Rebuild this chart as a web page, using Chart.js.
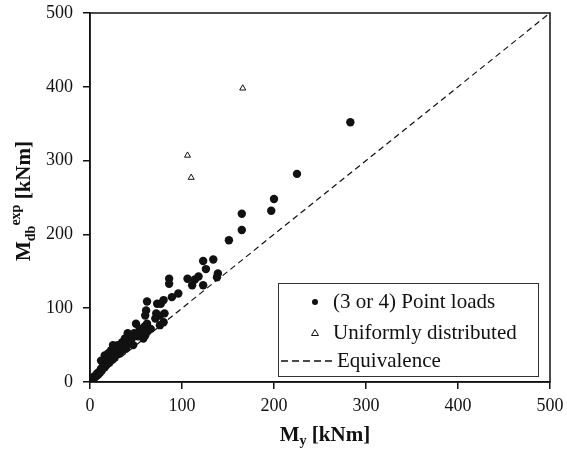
<!DOCTYPE html>
<html>
<head>
<meta charset="utf-8">
<script src="https://cdn.jsdelivr.net/npm/chart.js@4/dist/chart.umd.min.js"></script>
<style>
    html, body { margin: 0; padding: 0; background: #fff; }
    #wrap { width: 567px; height: 450px; }
</style>
</head>
<body>
<div id="wrap"><canvas id="chart" width="567" height="450"></canvas></div>
<script>
// M_y [kNm] vs M_db^exp [kNm]
const pointLoadsX = [283, 225, 200, 197, 165, 165, 151, 123, 134, 126, 139, 138, 106, 118, 114, 111, 123,
    86, 86, 96, 89, 80, 77, 62, 73, 61, 72, 81, 76, 71, 76, 80, 60, 62, 50, 54, 59, 58, 60, 48, 41,
    47, 44, 36, 35, 30, 25, 29, 23, 20, 16, 15, 12, 42, 38,
    1, 2, 3, 4, 5, 6, 7, 8, 9, 10, 11, 12, 13, 14, 16, 17, 18, 19, 21, 22, 24, 26, 27, 28, 31, 33, 34, 37, 39, 44, 46, 52, 55, 57, 63, 66];
const pointLoadsY = [352, 282, 248, 232, 228, 206, 192, 164, 166, 153, 147, 142, 140, 143, 139, 131, 131,
    140, 133, 120, 115, 111, 106, 109, 106, 97, 93, 93, 90, 86, 77, 81, 90, 79, 79, 72, 75, 59, 63, 66, 66,
    50, 52, 52, 54, 50, 50, 43, 43, 39, 36, 27, 29, 63, 59,
    2, 4, 3, 7, 6, 9, 8, 12, 10, 14, 13, 18, 16, 21, 20, 25, 23, 28, 26, 33, 30, 37, 34, 41, 38, 45, 42, 48, 45, 57, 60, 62, 65, 68, 69, 72];
const uniformX = [166, 106, 110];
const uniformY = [398, 307, 277];
const equivX = [0, 500];
const equivY = [0, 500];
const axisTicks = [0, 100, 200, 300, 400, 500];
const legendLabels = ["(3 or 4) Point loads", "Uniformly distributed", "Equivalence"];

const toPoints = (xs, ys) => xs.map((x, i) => ({ x: x, y: ys[i] }));
const SERIF = "'Liberation Serif', 'Times New Roman', serif";

// draw text runs with sub/superscripts, starting at x (baseline y)
function drawRuns(ctx, runs, x, y) {
    runs.forEach(r => {
        ctx.font = "bold " + r.size + "px " + SERIF;
        ctx.fillText(r.text, x, y + (r.dy || 0));
        x += ctx.measureText(r.text).width;
    });
}
function runsWidth(ctx, runs) {
    let w = 0;
    runs.forEach(r => {
        ctx.font = "bold " + r.size + "px " + SERIF;
        w += ctx.measureText(r.text).width;
    });
    return w;
}

const decorPlugin = {
    id: "decor",
    afterDraw(chart) {
        const ctx = chart.ctx;
        const a = chart.chartArea;
        ctx.save();
        // frame
        ctx.strokeStyle = "#111";
        ctx.lineWidth = 1.5;
        ctx.strokeRect(a.left, a.top, a.right - a.left, a.bottom - a.top);

        // axis titles
        ctx.fillStyle = "#111";
        ctx.textBaseline = "alphabetic";
        const xRuns = [{ text: "M", size: 21 }, { text: "y", size: 14, dy: 4 }, { text: " [kNm]", size: 21 }];
        const xw = runsWidth(ctx, xRuns);
        drawRuns(ctx, xRuns, 325 - xw / 2, 441);

        const yRuns = [{ text: "M", size: 21 }, { text: "db", size: 14, dy: 5 }, { text: "exp", size: 14, dy: -10 }, { text: " [kNm]", size: 21 }];
        const yw = runsWidth(ctx, yRuns);
        ctx.translate(30, 201);
        ctx.rotate(-Math.PI / 2);
        drawRuns(ctx, yRuns, -yw / 2, 0);
        ctx.setTransform(1, 0, 0, 1, 0, 0);

        // legend box
        const bx = 278, by = 283, bw = 260, bh = 93;
        ctx.fillStyle = "#fff";
        ctx.fillRect(bx, by, bw, bh);
        ctx.strokeStyle = "#333";
        ctx.lineWidth = 1;
        ctx.strokeRect(bx + 0.5, by + 0.5, bw, bh);

        ctx.fillStyle = "#111";
        ctx.font = "21px " + SERIF;
        ctx.textBaseline = "middle";
        const rows = [302, 333, 361];
        // dot
        ctx.beginPath();
        ctx.arc(315, rows[0], 3, 0, Math.PI * 2);
        ctx.fill();
        // triangle
        ctx.beginPath();
        ctx.moveTo(315, rows[1] - 3.5);
        ctx.lineTo(318.5, rows[1] + 2.5);
        ctx.lineTo(311.5, rows[1] + 2.5);
        ctx.closePath();
        ctx.strokeStyle = "#111";
        ctx.lineWidth = 1;
        ctx.stroke();
        // dashed
        ctx.setLineDash([7, 4]);
        ctx.lineWidth = 1.5;
        ctx.beginPath();
        ctx.moveTo(281, rows[2]);
        ctx.lineTo(334, rows[2]);
        ctx.stroke();
        ctx.setLineDash([]);

        ctx.fillText(legendLabels[0], 333, rows[0]);
        ctx.fillText(legendLabels[1], 333, rows[1]);
        ctx.fillText(legendLabels[2], 337, rows[2]);
        ctx.restore();
    }
};

const axisOpts = (fitFn, pad) => ({
    type: "linear",
    min: 0,
    max: 500,
    afterBuildTicks: s => { s.ticks = axisTicks.map(v => ({ value: v })); },
    afterFit: s => {
        fitFn(s);
        // let layout.padding alone decide the chart area edges
        s.paddingTop = 0; s.paddingBottom = 0; s.paddingLeft = 0; s.paddingRight = 0;
    },
    border: { color: "#111", width: 1.5 },
    grid: { drawOnChartArea: false, drawTicks: true, tickLength: 7, color: "#111", lineWidth: 1.5 },
    ticks: { color: "#111", padding: pad, font: { family: SERIF, size: 18 } }
});

new Chart(document.getElementById("chart"), {
    type: "scatter",
    data: {
        datasets: [
            {
                label: legendLabels[2],
                type: "line",
                data: toPoints(equivX, equivY),
                borderColor: "#111",
                borderWidth: 1.2,
                borderDash: [6, 4],
                pointRadius: 0,
                fill: false,
                order: 3
            },
            {
                label: legendLabels[0],
                data: toPoints(pointLoadsX, pointLoadsY),
                pointStyle: "circle",
                pointRadius: 4.2,
                backgroundColor: "#111",
                borderColor: "#111",
                borderWidth: 0,
                order: 1
            },
            {
                label: legendLabels[1],
                data: toPoints(uniformX, uniformY),
                pointStyle: "triangle",
                pointRadius: 3.5,
                backgroundColor: "#fff",
                borderColor: "#111",
                borderWidth: 1,
                order: 2
            }
        ]
    },
    options: {
        responsive: false,
        animation: false,
        layout: { padding: { top: 13, right: 17, left: 0, bottom: 0 } },
        plugins: { legend: { display: false }, tooltip: { enabled: false } },
        scales: {
            x: axisOpts(s => { s.height = 68; }, 6),
            y: axisOpts(s => { s.width = 90; }, 10)
        }
    },
    plugins: [decorPlugin]
});
</script>
</body>
</html>
